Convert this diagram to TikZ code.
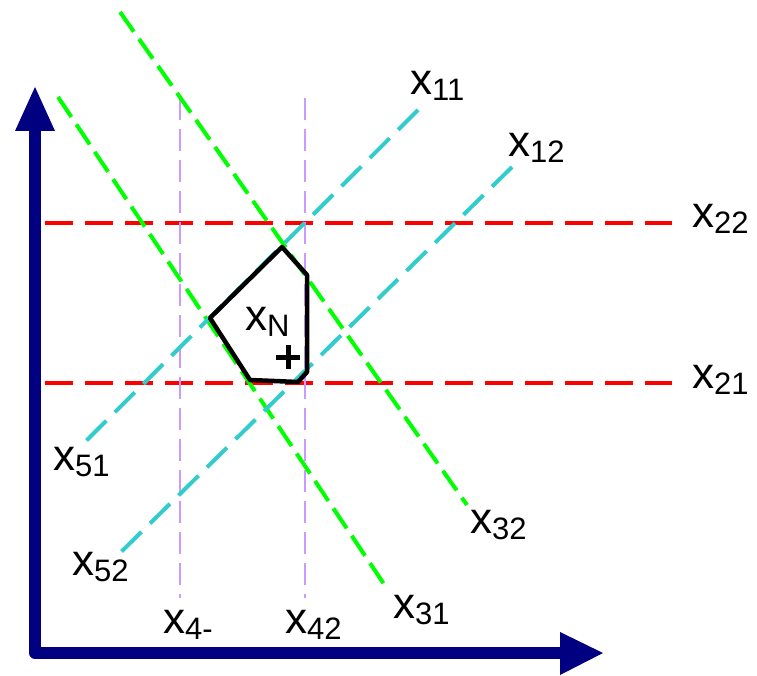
\documentclass[tikz,border=0pt]{standalone}
\usepackage{fontspec}
\setmainfont{Liberation Sans}
\definecolor{navy}{RGB}{0,0,128}
\definecolor{lred}{RGB}{255,0,0}
\definecolor{lcyan}{RGB}{51,204,204}
\definecolor{lgreen}{RGB}{0,255,0}
\definecolor{lpurple}{RGB}{204,153,255}
\newcommand{\xlab}[1]{x{\fontsize{31}{31}\selectfont\raisebox{-6pt}{#1}}}
\begin{document}
\begin{tikzpicture}[x=1pt, y=-1pt,
    lbl/.style={anchor=base west, inner sep=0pt, font=\fontsize{44}{48}\selectfont},
    redline/.style={draw=lred, line width=3.5pt, dash pattern=on 28pt off 12pt},
    cyanline/.style={draw=lcyan, line width=4pt, dash pattern=on 28pt off 12pt},
    greenline/.style={draw=lgreen, line width=4pt, dash pattern=on 24pt off 9pt},
    purpleline/.style={draw=lpurple, line width=2.5pt, dash pattern=on 22pt off 9pt},
    axis/.style={draw=navy, line width=12pt}
]
\useasboundingbox (0,0) rectangle (757,676);

% Axes
\draw[axis, line join=round] (35,128) -- (35,653) -- (562,653);
\fill[navy] (35,87) -- (15,131) -- (55,131) -- cycle;
\fill[navy] (603,653) -- (560,632) -- (560,675) -- cycle;

% Horizontal lines
\draw[redline] (45,223) -- (672,223);
\draw[redline] (45,383) -- (672,383);

% Vertical lines
\draw[purpleline] (180,98) -- (180,598);
\draw[purpleline] (305,98) -- (305,598);

% Falling lines
\draw[greenline] (120,12) -- (467,505);
\draw[greenline] (58,97) -- (388,590);

% Rising lines
\draw[cyanline] (418,110) -- (80,447);
\draw[cyanline] (512,167) -- (120,553);

% Feasible region
\draw[line width=4.5pt, line join=round] (282,247) -- (307,275) -- (307,372) -- (298,382)
    -- (250,380) -- (210,318) -- cycle;
\draw[line width=5pt] (276,357) -- (300,357) (288,345) -- (288,369);
\node[lbl] (xN) at (245,330) {\xlab{N}};

% Labels
\node[lbl] (x11) at (410,95) {\xlab{11}};
\node[lbl] (x12) at (508,157) {\xlab{12}};
\node[lbl] (x22) at (692,228) {\xlab{22}};
\node[lbl] (x21) at (692,388) {\xlab{21}};
\node[lbl] (x32) at (470,533) {\xlab{32}};
\node[lbl] (x31) at (393,618) {\xlab{31}};
\node[lbl] (x51) at (53,470) {\xlab{51}};
\node[lbl] (x52) at (72,575) {\xlab{52}};
\node[lbl] (x41) at (163,633) {\xlab{4-}};
\node[lbl] (x42) at (285,633) {\xlab{42}};
\end{tikzpicture}
\end{document}
